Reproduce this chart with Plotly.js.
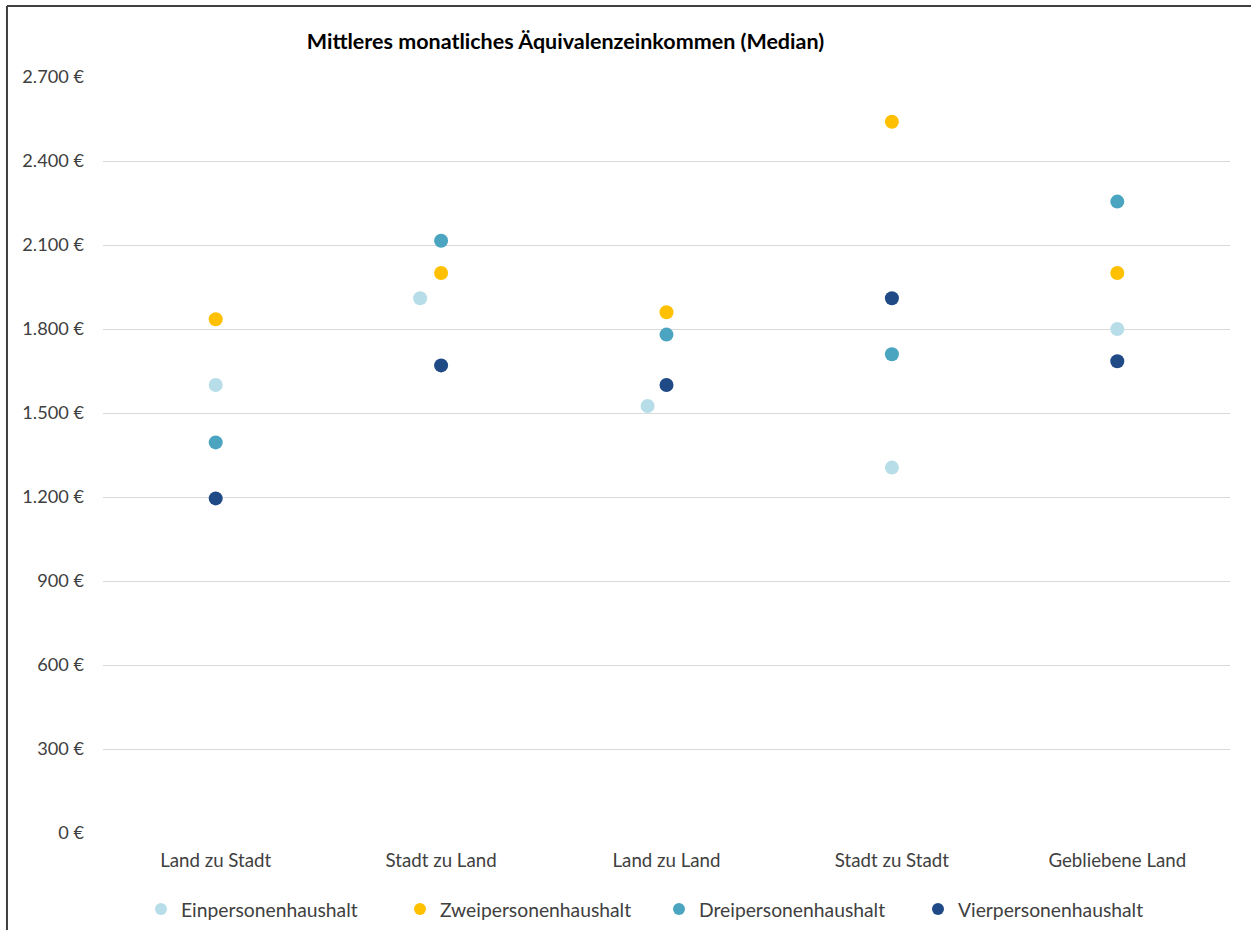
<!DOCTYPE html>
<html>
<head>
<meta charset="utf-8">
<script src="https://cdn.plot.ly/plotly-3.0.1.min.js"></script>
<style>
  html, body { margin: 0; padding: 0; background: #ffffff; }
  #chart { width: 1251px; height: 930px; }
</style>
</head>
<body>
<div id="chart"></div>
<script>
// Categories (migration groups)
const categories = ["Land zu Stadt", "Stadt zu Land", "Land zu Land", "Stadt zu Stadt", "Gebliebene Land"];

// Series values (median monthly equivalised income, €)
const einpersonen  = [1600, 1910, 1525, 1305, 1800];
const zweipersonen = [1835, 2000, 1860, 2540, 2000];
const dreipersonen = [1395, 2115, 1780, 1710, 2255];
const vierpersonen = [1195, 1670, 1600, 1910, 1685];

const seriesNames = ["Einpersonenhaushalt", "Zweipersonenhaushalt", "Dreipersonenhaushalt", "Vierpersonenhaushalt"];

// Y tick labels
const yTickValues = [0, 300, 600, 900, 1200, 1500, 1800, 2100, 2400, 2700];
const yTickLabels = ["0 €", "300 €", "600 €", "900 €", "1.200 €", "1.500 €", "1.800 €", "2.100 €", "2.400 €", "2.700 €"];

const chartTitle = "Mittleres monatliches Äquivalenzeinkommen (Median)";

// Layout-only: slight horizontal nudge of overlapping single-person markers
const einNudge = [0, -0.093, -0.084, 0, 0];

const colors = ["#B7DEE8", "#FFC000", "#4BA5C0", "#1F4A86"];
const seriesValues = [einpersonen, zweipersonen, dreipersonen, vierpersonen];
const catIdx = categories.map((c, i) => i);

const traces = seriesValues.map((vals, s) => ({
  type: "scatter",
  mode: "markers",
  name: seriesNames[s],
  x: catIdx.map(i => i + (s === 0 ? einNudge[i] : 0)),
  y: vals,
  marker: { color: colors[s], size: 14, line: { width: 0 } },
  hovertemplate: categories.map(c => c + ": %{y} €<extra>" + seriesNames[s] + "</extra>")
}));

const font = "Lato, 'Open Sans', 'Liberation Sans', sans-serif";

const layout = {
  width: 1251,
  height: 930,
  paper_bgcolor: "#ffffff",
  plot_bgcolor: "#ffffff",
  margin: { l: 103, r: 21, t: 77, b: 97 },
  font: { family: font, size: 18.5, color: "#404040" },
  title: {
    text: chartTitle,
    font: { family: font, size: 21.5, color: "#000000", weight: "bold" },
    xref: "container", x: 0.452, xanchor: "center",
    yref: "container", y: 0.955, yanchor: "middle"
  },
  xaxis: {
    range: [-0.5, 4.5],
    tickmode: "array",
    tickvals: catIdx,
    ticktext: categories,
    showgrid: false,
    zeroline: false,
    showline: false,
    ticks: "",
    ticklabelstandoff: 14,
    tickfont: { family: font, size: 18.7, color: "#404040" },
    fixedrange: true
  },
  yaxis: {
    range: [0, 2700],
    tickmode: "array",
    tickvals: yTickValues,
    ticktext: yTickLabels,
    showgrid: true,
    gridcolor: "#D9D9D9",
    gridwidth: 1.4,
    zeroline: false,
    showline: false,
    ticks: "",
    ticklabelstandoff: 18,
    tickfont: { family: font, size: 18.2, color: "#404040" },
    fixedrange: true
  },
  showlegend: true,
  legend: {
    orientation: "h",
    xref: "container",
    x: 0.1127, xanchor: "left",
    yref: "container",
    y: 0.022, yanchor: "middle",
    font: { family: font, size: 19.3, color: "#404040" },
    itemwidth: 30,
    entrywidth: 214,
    entrywidthmode: "pixels",
    tracegroupgap: 0,
    itemsizing: "constant"
  },
  shapes: [
    { type: "line", xref: "paper", yref: "paper", x0: -0.0852, x1: 1.1, y0: 1.0939, y1: 1.0939,
      line: { color: "#404040", width: 2 } },
    { type: "line", xref: "paper", yref: "paper", x0: -0.0852, x1: -0.0852, y0: 1.0939, y1: -0.2,
      line: { color: "#404040", width: 2 } }
  ]
};

Plotly.newPlot("chart", traces, layout, { displayModeBar: false, staticPlot: false });
</script>
</body>
</html>
